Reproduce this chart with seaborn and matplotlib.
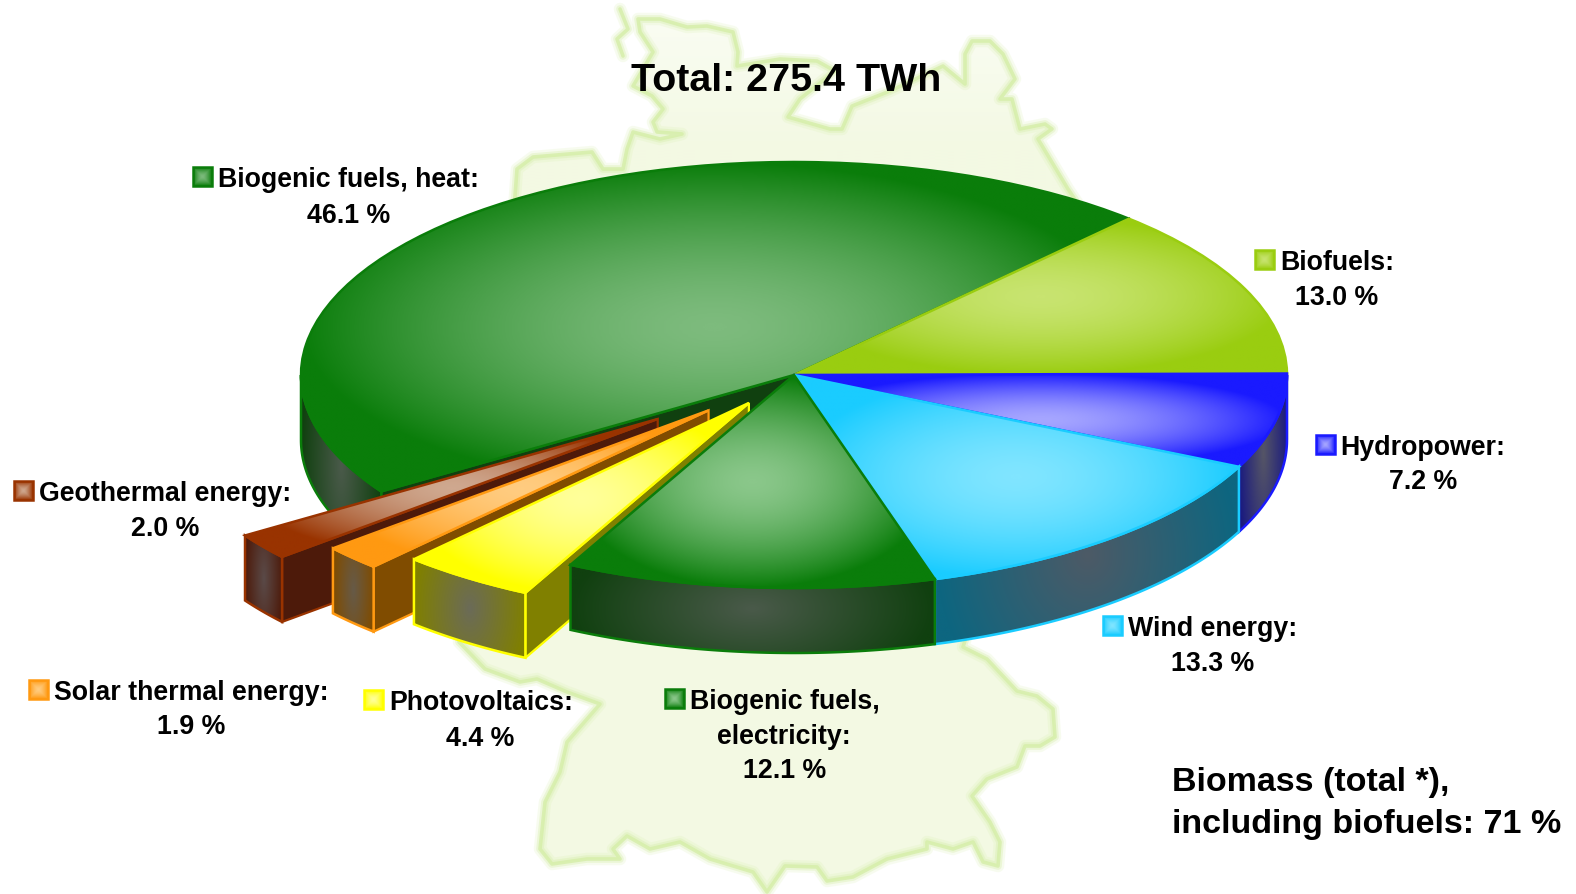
import numpy as np
import matplotlib
matplotlib.use("Agg")
import matplotlib.pyplot as plt
from matplotlib.patches import Polygon, Rectangle
import seaborn as sns

# Data
sources = ["Biofuels", "Biogenic fuels, heat", "Geothermal energy", "Solar thermal energy",
           "Photovoltaics", "Biogenic fuels, electricity", "Wind energy", "Hydropower"]
shares = [13.0, 46.1, 2.0, 1.9, 4.4, 12.1, 13.3, 7.2]
explode = [0, 0, 0.345, 0.24, 0.16, 0, 0, 0]

rim_colors = ["#9acd10", "#0a7d0a", "#993300", "#ff9911", "#ffff00", "#0a7d0a", "#1accff", "#1a1aff"]
center_colors = ["#c8e470", "#7dbb7d", "#cfa88f", "#ffcc80", "#ffff99", "#8ac78a", "#80e5ff", "#a6a6ff"]
side_rims = ["#55700a", "#10400f", "#4d1a0a", "#804c00", "#808000", "#10400f", "#0d6680", "#1a1a80"]
side_centers = ["#606a40", "#4a5a4a", "#5a4a48", "#665a48", "#6b6b58", "#4a5a4a", "#4d5a66", "#555566"]

# back to front
draw_order = [1, 0, 7, 6, 2, 3, 4, 5]

# label text, swatch and text positions in reference pixels
label_lines = [["Biofuels:", "13.0 %"], ["Biogenic fuels, heat:", "46.1 %"],
               ["Geothermal energy:", "2.0 %"], ["Solar thermal energy:", "1.9 %"],
               ["Photovoltaics:", "4.4 %"], ["Biogenic fuels,", "electricity:", "12.1 %"],
               ["Wind energy:", "13.3 %"], ["Hydropower:", "7.2 %"]]
label_x = [1249, 192, 14, 29, 362, 662, 1097, 1309]
label_y = [259, 177, 489, 687, 697, 696, 623, 443]
rest_x = [[1330], [347], [164], [190], [478], [780, 781], [1206], [1416]]
rest_y = [[294], [212], [524], [721], [733], [731, 765], [658], [477]]

# Germany outline behind the pie
map_x = [638, 660, 687, 707, 733, 738, 737, 780, 817, 835, 800, 788, 830, 842, 852, 890, 943, 965, 965,
         972, 990, 1003, 1015, 1000, 1012, 1020, 1045, 1052, 1038, 1068, 1095,
         963, 987, 1017, 1037, 1053, 1055, 1040, 1025, 1017, 987, 972, 990, 1000, 998, 983, 973, 953,
         927, 927, 887, 853, 827, 817, 785, 767, 753, 710, 680, 650, 627, 613, 620, 587, 552, 540,
         545, 560, 567, 600, 567, 537, 520, 485, 459,
         515, 517, 533, 592, 603, 623, 627, 633, 660, 682, 657, 653, 663, 652, 633, 653, 640]
map_y = [20, 20, 28, 27, 33, 53, 67, 60, 62, 72, 100, 118, 130, 130, 107, 92, 67, 85, 55,
         42, 42, 55, 80, 100, 100, 130, 125, 130, 140, 190, 230,
         648, 660, 692, 697, 710, 738, 747, 747, 768, 780, 797, 823, 843, 867, 863, 843, 850,
         843, 850, 860, 878, 882, 868, 867, 893, 873, 860, 843, 850, 837, 850, 860, 860, 865, 850,
         803, 773, 743, 705, 693, 680, 683, 670, 643,
         197, 170, 158, 153, 170, 170, 150, 133, 140, 135, 133, 123, 110, 97, 87, 53, 33]
sylt_x = [620, 628, 617, 623]
sylt_y = [10, 30, 40, 57]

W, H = 1576, 895
cx, cy, rx, ry, depth = 794, 376, 493, 213, 65

sns.set_theme(style="white")
plt.rcParams["font.family"] = ["Liberation Sans", "DejaVu Sans"]
plt.rcParams["font.weight"] = "bold"

fig = plt.figure(figsize=(W / 100, H / 100), dpi=100, facecolor="white")

# ---------- map ----------
map_ax = fig.add_axes([0, 0, 1, 1], zorder=0)
outline = list(zip(map_x, map_y))
land = Polygon(outline, closed=True, fc="none", ec="none", zorder=1)
map_ax.add_patch(land)
fade = sns.blend_palette(["#fbfdf5", "#f3f9e3", "#f3f9e3"], as_cmap=True)
ramp = np.linspace(0, 1, 200).reshape(-1, 1)
img = map_ax.imshow(ramp, extent=(0, W, 300, 0), aspect="auto", cmap=fade, zorder=1)
img.set_clip_path(land)
low_land = map_ax.imshow(np.ones((2, 2)), extent=(0, W, H, 300), aspect="auto", cmap=fade, vmin=0, vmax=1, zorder=1)
low_land.set_clip_path(land)
for lw, alpha in [(9, 0.18), (5.5, 0.35), (2.6, 0.8)]:
    map_ax.add_patch(Polygon(outline, closed=True, fc="none", ec="#d5eea8", lw=lw, alpha=alpha,
                             joinstyle="round", zorder=2))
    map_ax.plot(sylt_x, sylt_y, color="#d5eea8", lw=lw, alpha=alpha, zorder=2, solid_capstyle="round")
map_ax.set_xlim(0, W)
map_ax.set_ylim(H, 0)
map_ax.axis("off")

# ---------- pie ----------
ax = fig.add_axes([0, 0, 1, 1], zorder=1)
wedges, _ = ax.pie(shares, explode=explode, colors=rim_colors, startangle=0.4, radius=1)
ax.set_aspect("auto")
ax.axis("off")
dz = depth / ry


def gradient_fill(patch, xs, ys, low, high, zorder, wall=False):
    # path style gradient around the middle of the bounding box, clipped to the patch
    x0, x1, y0, y1 = min(xs), max(xs), min(ys), max(ys)
    gx, gy = np.meshgrid(np.linspace(-1, 1, 300), np.linspace(-1, 1, 300))
    if wall:
        t = np.sqrt(gx ** 2 + (0.5 * gy) ** 2)
    else:
        t = np.clip(np.sqrt(gx ** 2 + gy ** 2), 0, 1) ** 1.6
    cmap = sns.blend_palette([high, low], as_cmap=True)
    im = ax.imshow(np.clip(t, 0, 1), extent=(x0, x1, y0, y1), origin="lower", aspect="auto",
                   cmap=cmap, vmin=0, vmax=1, zorder=zorder, interpolation="bilinear")
    im.set_clip_path(patch)


for rank, i in enumerate(draw_order):
    w = wedges[i]
    base = 10 * (rank + 1)
    mx, my = w.center
    t1, t2 = np.radians(w.theta1), np.radians(w.theta2)
    edge = rim_colors[i]

    # cut faces towards the viewer
    for a, sign in [(t1, 1), (t2, -1)]:
        if sign * np.cos(a) > 0:
            qx = [mx, mx + np.cos(a), mx + np.cos(a), mx]
            qy = [my, my + np.sin(a), my + np.sin(a) - dz, my - dz]
            ax.add_patch(Polygon(list(zip(qx, qy)), closed=True, fc=side_rims[i], ec=edge, lw=1.6, zorder=base))

    # outer wall, lower half of the ellipse only
    a1, a2 = max(w.theta1, 180), min(w.theta2, 360)
    if a2 > a1:
        arc = np.radians(np.linspace(a1, a2, 120))
        ox = np.r_[mx + np.cos(arc), mx + np.cos(arc[::-1])]
        oy = np.r_[my + np.sin(arc), my + np.sin(arc[::-1]) - dz]
        wall = Polygon(list(zip(ox, oy)), closed=True, fc="none", ec=edge, lw=1.8, zorder=base + 2, joinstyle="miter")
        ax.add_patch(wall)
        gradient_fill(wall, ox, oy, side_rims[i], side_centers[i], base + 1, wall=True)

    # top
    arc = np.radians(np.linspace(w.theta1, w.theta2, 200))
    tx = np.r_[mx, mx + np.cos(arc)]
    ty = np.r_[my, my + np.sin(arc)]
    w.set_facecolor("none")
    w.set_edgecolor(edge)
    w.set_linewidth(1.8)
    w.set_joinstyle("miter")
    w.set_zorder(base + 4)
    gradient_fill(w, tx, ty, rim_colors[i], center_colors[i], base + 3)

ax.set_xlim(-cx / rx, (W - cx) / rx)
ax.set_ylim(-(H - cy) / ry, cy / ry)

# ---------- text ----------
top = fig.add_axes([0, 0, 1, 1], zorder=2)
top.set_xlim(0, W)
top.set_ylim(H, 0)
top.axis("off")
S = W / 1568
lab_size = 19.3
shift = 2.5

top.text(782 * S, 81 * S, "Total: 275.4 TWh", fontsize=28.4, ha="center", va="center", color="black")
top.text(1166 * S, 778.5 * S, "Biomass (total *),", fontsize=24.5, ha="left", va="center", color="black")
top.text(1166 * S, 820.5 * S, "including biofuels: 71 %", fontsize=24.5, ha="left", va="center", color="black")

gx, gy = np.meshgrid(np.linspace(-1, 1, 40), np.linspace(-1, 1, 40))
for i, lines in enumerate(label_lines):
    sx, sy = label_x[i] * S, label_y[i] * S
    box = 19
    cmap = sns.blend_palette([center_colors[i], rim_colors[i]], as_cmap=True)
    top.imshow(np.maximum(abs(gx), abs(gy)) ** 1.5, extent=(sx, sx + box, sy + box / 2, sy - box / 2), aspect="auto",
               cmap=cmap, vmin=0, vmax=1, zorder=3)
    top.add_patch(Rectangle((sx, sy - box / 2), box, box, fc="none", ec=rim_colors[i], lw=1.8, zorder=4))
    top.text(sx + 25, sy + shift, lines[0], fontsize=lab_size, ha="left", va="center", color="black", zorder=5)
    for line, tx_, ty_ in zip(lines[1:], rest_x[i], rest_y[i]):
        top.text(tx_ * S, ty_ * S + shift, line, fontsize=lab_size, ha="center", va="center", color="black", zorder=5)
top.set_xlim(0, W)
top.set_ylim(H, 0)

fig.savefig("out.png", dpi=100)
